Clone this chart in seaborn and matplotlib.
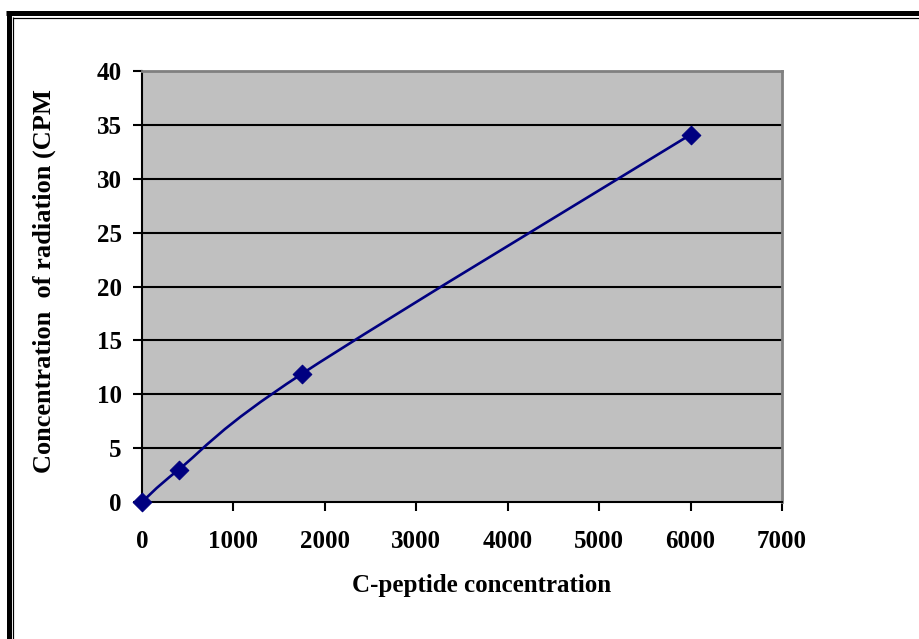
import numpy as np
import pandas as pd
import matplotlib
matplotlib.use("Agg")
import matplotlib.pyplot as plt
from matplotlib.path import Path
from matplotlib.patches import PathPatch
from matplotlib.lines import Line2D
import seaborn as sns

# Standard curve: C-peptide concentration vs measured radiation
c_peptide = [0, 400, 1750, 6000]
radiation_cpm = [0, 3, 11.9, 34.1]

x_ticks = [0, 1000, 2000, 3000, 4000, 5000, 6000, 7000]
y_ticks = [0, 5, 10, 15, 20, 25, 30, 35, 40]

df = pd.DataFrame({"conc": c_peptide, "cpm": radiation_cpm})

sns.set_style("white", {"xtick.bottom": True, "ytick.left": True,
                        "text.color": "black", "axes.labelcolor": "black",
                        "xtick.color": "black", "ytick.color": "black"})
plt.rcParams["font.family"] = ["Liberation Serif", "DejaVu Serif"]
plt.rcParams["font.weight"] = "bold"

W, H = 920, 639
fig = plt.figure(figsize=(W / 100, H / 100), dpi=100)
fig.patch.set_facecolor("white")

L, R, T, B = 142, 782, 71, 502
ax = fig.add_axes([L / W, 1 - B / H, (R - L) / W, (B - T) / H])
ax.set_facecolor("#c0c0c0")

ax.set_xlim(0, 7000)
ax.set_ylim(0, 40)
ax.set_xticks(x_ticks)
ax.set_yticks(y_ticks)

# horizontal gridlines
for yv in y_ticks[1:-1]:
    ax.axhline(yv, color="black", lw=1.5, zorder=1)

# smoothed curve (Catmull-Rom style Bezier through the points)
pts = np.column_stack([c_peptide, radiation_cpm]).astype(float)
ext = np.vstack([pts[0], pts, pts[-1]])
verts = [tuple(pts[0])]
codes = [Path.MOVETO]
for i in range(len(pts) - 1):
    p0, p1, p2, p3 = ext[i], ext[i + 1], ext[i + 2], ext[i + 3]
    c1 = p1 + (p2 - p0) / 6.0
    c2 = p2 - (p3 - p1) / 6.0
    verts += [tuple(c1), tuple(c2), tuple(p2)]
    codes += [Path.CURVE4] * 3
curve = PathPatch(Path(verts, codes), facecolor="none", edgecolor="#000080",
                  lw=1.9, zorder=3, clip_on=False)
ax.add_patch(curve)

sns.scatterplot(data=df, x="conc", y="cpm", ax=ax, marker="D", s=90,
                color="#000080", edgecolor="#000080", zorder=4, clip_on=False,
                legend=False)

for side in ["top", "right"]:
    ax.spines[side].set_visible(True)
    ax.spines[side].set_color("#808080")
    ax.spines[side].set_linewidth(2)
for side in ["left", "bottom"]:
    ax.spines[side].set_visible(True)
    ax.spines[side].set_color("black")
    ax.spines[side].set_linewidth(1.5)

ax.tick_params(axis="both", direction="out", length=6.5, width=1.5,
               color="black", labelcolor="black", labelsize=18,
               bottom=True, left=True)
ax.tick_params(axis="x", pad=14)
ax.tick_params(axis="y", pad=8)
for lab in ax.get_xticklabels() + ax.get_yticklabels():
    lab.set_fontweight("bold")

ax.set_xlabel("C-peptide concentration", fontsize=18, fontweight="bold",
              color="black")
ax.set_ylabel("Concentration  of radiation (CPM", fontsize=19,
              fontweight="bold", color="black")
ax.xaxis.set_label_coords(0.531, -0.193)
ax.yaxis.set_label_coords(-0.152, 0.512)
ax.xaxis.label.set_va("center")
ax.yaxis.label.set_va("center")

# double-line frame around the chart area
def fig_line(xs, ys, lw):
    fig.add_artist(Line2D([x / W for x in xs], [1 - y / H for y in ys],
                          color="black", lw=lw * 0.72, solid_capstyle="butt"))

fig_line([6, W], [13, 13], 5)
fig_line([13, W], [17.5, 17.5], 1.2)
fig_line([8.5, 8.5], [11, H], 5)
fig_line([13, 13], [17, H], 1.2)

fig.savefig("out.png", dpi=100, facecolor="white")
